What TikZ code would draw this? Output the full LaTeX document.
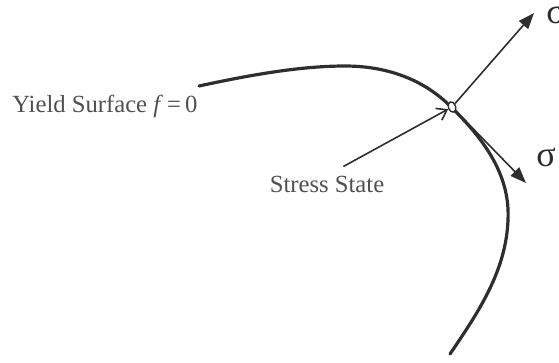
\documentclass[tikz,border=0pt]{standalone}
\usepackage{fontspec}
\setmainfont{Liberation Serif}
\usepackage{xcolor}
\usetikzlibrary{arrows.meta,calc,shapes.geometric}
\definecolor{ink}{HTML}{2E2E2E}
\definecolor{label}{HTML}{505050}

\begin{document}
\begin{tikzpicture}[
  x=0.75pt,y=-0.75pt,
  surf/.style={draw=ink,line width=2.4pt,line cap=round},
  normal/.style={-{Triangle[length=12pt,width=9pt]},line width=1.2pt,draw=ink},
  ptr/.style={-{Straight Barb[length=7pt,width=10pt]},line width=1.2pt,draw=ink,shorten <=14pt},
  state/.style={draw=ink,fill=white,ellipse,line width=1.1pt,minimum width=5.5pt,minimum height=8pt,inner sep=0pt,rotate=20},
  txt/.style={text=label,font=\fontsize{18.5}{22}\selectfont,inner sep=0pt},
  sig/.style={text=ink,font=\fontsize{27}{30}\selectfont,inner sep=0pt}
]
\useasboundingbox (0,0) rectangle (559,362);
\draw[surf] (199,86) .. controls (250,75) and (300,66) .. (345,66)
  .. controls (395,66) and (430,85) .. (452,108)
  .. controls (490,145) and (510,180) .. (508,220)
  .. controls (506,270) and (480,310) .. (450,354);
\node[state] (pt) at (452,107) {};
\coordinate (tipa) at (534,13);
\coordinate (tipb) at (526,183);
\node[txt,anchor=west] (yield) at (12,106) {Yield Surface \textit{f}\,=\,0};
\node[txt] (stress) at (327,184) {Stress State};
\node[sig] (siga) at (556,14) {σ};
\node[sig] (sigb) at (546,157) {σ};
\draw[normal] (pt) -- (tipa);
\draw[normal] (pt) -- (tipb);
\draw[ptr] (stress.north) -- (pt);
\end{tikzpicture}
\end{document}
